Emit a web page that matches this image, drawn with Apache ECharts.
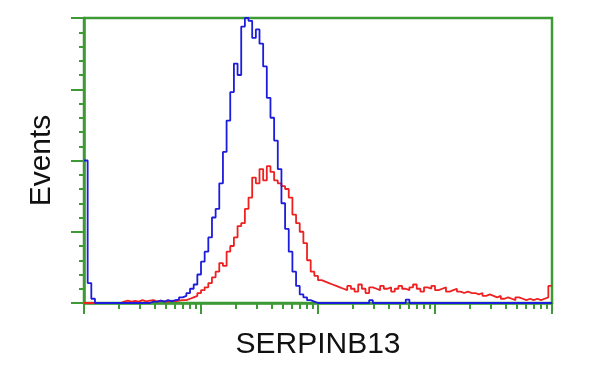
<!DOCTYPE html>
<html>
<head>
<meta charset="utf-8">
<script src="https://cdn.jsdelivr.net/npm/echarts@6/dist/echarts.min.js"></script>
<style>
html,body{margin:0;padding:0;background:#fff;}
#chart{width:600px;height:375px;}
</style>
</head>
<body>
<div id="chart"></div>
<script>
// Histogram: 128 log-spaced channels over 4 decades (32 channels per decade)
const xAxisTitle = 'SERPINB13';
const yAxisTitle = 'Events';
const decades = 4;
const channelsPerDecade = 32;

// Blue (control) counts, % of max
const blueCounts = [
  50, 7, 1.5,
  0,0,0,0,0,0,0,0,0,0,0,0,0,0,0,
  0.5, 0.5, 0.8, 0.5, 1, 0.6, 1, 1.2, 2, 2.5, 3.5, 5, 6.5, 10, 14.5, 18, 23, 30, 33, 42, 53, 64,
  74, 84, 80, 97, 100, 99, 93, 96, 91, 83, 72, 65, 57, 47, 35, 26, 18, 11, 6, 3, 2, 1, 0.5,
  0,0,0,0,0,0,0,0,0,0,0,0,0,0,0,
  1,
  0,0,0,0,0,0,0,0,0,
  1.2,
  0,0,0,0,0,0,0,0,0,0,0,0,0,0,0,0,0,0,0,0,0,0,0,0,0,0,0,0,0,0,0,0,0,0,0,0,0,0,0
];

// Red (SERPINB13 stained) counts, % of max
const redCounts = [
  0,0,0,0,0,0,0,0,0,0,
  0.5, 0.8, 0.5, 0.7, 0.5, 1, 0.6, 0.8, 1, 0.5, 0.8, 0.6, 0.5, 0.8, 0.6, 0.8,
  1, 1, 1.5, 2, 2.5, 3.5, 4.5, 5.5, 7, 9, 11, 14, 13, 18, 20, 23, 27, 28, 33, 37, 44, 42, 47, 43,
  48, 46, 43, 42, 41, 40, 37, 31, 28, 25, 21, 15, 11, 9.5, 8, 7.5, 7, 6.5, 6, 5.5,
  5, 4.5, 6, 5, 4, 6.5, 5, 3.5, 5.5, 5, 4.5, 6, 5, 5.5, 4, 5, 6, 5, 4.5, 5.5,
  6.5, 5, 4, 5.5, 5, 6, 4.5, 5, 5.5, 4, 4.5, 5, 4, 3.5, 4, 3.5, 3.5, 3, 3.5, 2.5,
  3, 2.5, 2, 2.5, 1.5, 2, 1.5, 1, 2, 1.5, 1, 1.5, 1, 1.5, 1, 1.5, 2, 6
];

const yMax = 100;
const yInterval = 25;

const GREEN = '#3d9a35';
const nCh = decades * channelsPerDecade;

function toSteps(arr) {
  const d = arr.map((v, i) => [i, v]);
  d.push([arr.length, arr[arr.length - 1]]);
  return d;
}

const minorTickValues = [];
for (let d = 0; d < decades; d++) {
  for (let k = 2; k <= 9; k++) {
    minorTickValues.push(d * channelsPerDecade + channelsPerDecade * Math.log10(k));
  }
}

const chart = echarts.init(document.getElementById('chart'), null, {renderer: 'canvas'});
chart.setOption({
  animation: false,
  grid: {
    left: 84, right: 48, top: 18, bottom: 72,
    show: true, borderColor: GREEN, borderWidth: 2.5, backgroundColor: 'transparent'
  },
  xAxis: [
    {
      type: 'value', min: 0, max: nCh, interval: channelsPerDecade,
      position: 'bottom',
      name: xAxisTitle, nameLocation: 'middle', nameGap: 27,
      nameTextStyle: {fontFamily: 'Liberation Sans, Arial, sans-serif', fontSize: 30, color: '#111'},
      axisLine: {show: true, lineStyle: {color: GREEN, width: 2.5}},
      axisTick: {show: true, inside: false, length: 11, lineStyle: {color: GREEN, width: 2}},
      axisLabel: {show: false},
      splitLine: {show: false}
    },
    {
      type: 'value', min: 0, max: nCh,
      position: 'bottom',
      axisLine: {show: false},
      axisTick: {show: true, inside: false, length: 6, customValues: minorTickValues, lineStyle: {color: GREEN, width: 2}},
      axisLabel: {show: false},
      splitLine: {show: false}
    }
  ],
  yAxis: {
    type: 'value', min: 0, max: yMax, interval: yInterval,
    name: yAxisTitle, nameLocation: 'middle', nameGap: 27, nameRotate: 90,
    nameTextStyle: {fontFamily: 'Liberation Sans, Arial, sans-serif', fontSize: 30, color: '#111'},
    axisLine: {show: true, lineStyle: {color: GREEN, width: 2.5}},
    axisTick: {show: true, inside: false, length: 13, lineStyle: {color: GREEN, width: 2}},
    minorTick: {show: true, splitNumber: 5, length: 5, lineStyle: {color: GREEN, width: 2}},
    axisLabel: {show: false},
    splitLine: {show: false},
    minorSplitLine: {show: false}
  },
  series: [
    {
      type: 'line', step: 'end', showSymbol: false, clip: true,
      data: toSteps(redCounts),
      lineStyle: {color: '#ee2020', width: 1.8},
      z: 2
    },
    {
      type: 'line', step: 'end', showSymbol: false, clip: true,
      data: toSteps(blueCounts),
      lineStyle: {color: '#1c1cdc', width: 1.8},
      z: 3
    }
  ]
});
</script>
</body>
</html>
